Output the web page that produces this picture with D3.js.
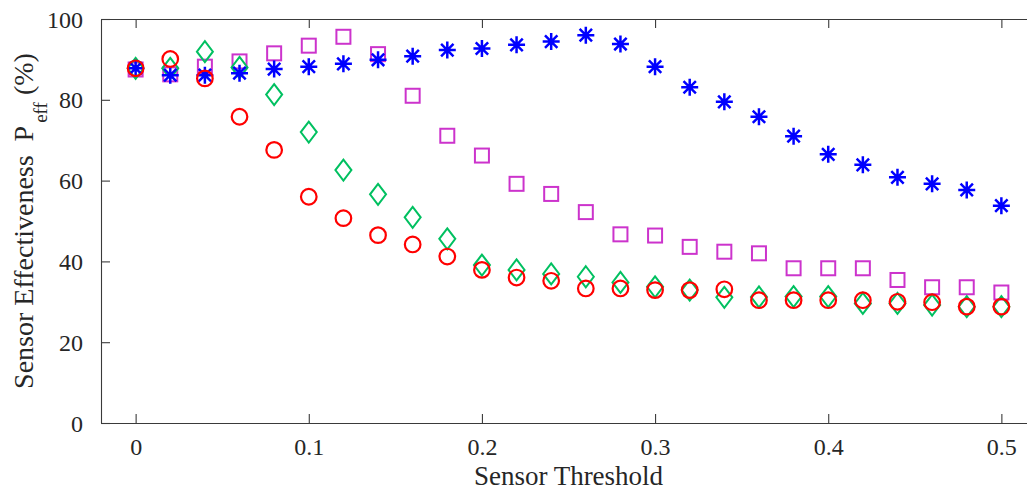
<!DOCTYPE html>
<html>
<head>
<meta charset="utf-8">
<script src="https://cdn.jsdelivr.net/npm/d3@7"></script>
<style>
  html, body { margin: 0; padding: 0; background: #fff; overflow: hidden; }
  svg { display: block; }
  text { font-family: "Liberation Serif", "Times New Roman", serif; fill: #262626; }
</style>
</head>
<body>
<svg id="chart" width="1027" height="490"></svg>
<script>
const thresholds = [0, 0.02, 0.04, 0.06, 0.08, 0.10, 0.12, 0.14, 0.16, 0.18, 0.20, 0.22, 0.24,
  0.26, 0.28, 0.30, 0.32, 0.34, 0.36, 0.38, 0.40, 0.42, 0.44, 0.46, 0.48, 0.50];
const seriesSquare = [87.5, 86.3, 88.2, 89.5, 91.5, 93.4, 95.6, 91.3, 81.0, 71.1, 66.2, 59.2, 56.7,
  52.2, 46.7, 46.4, 43.6, 42.4, 42.0, 38.3, 38.3, 38.3, 35.4, 33.6, 33.6, 32.3];
const seriesDiamond = [87.8, 87.8, 91.9, 88.0, 81.3, 72.0, 62.6, 56.6, 50.9, 45.6, 39.1, 37.9, 36.9,
  36.2, 34.8, 33.7, 32.9, 31.1, 31.2, 31.3, 31.3, 29.6, 29.6, 29.2, 28.8, 28.8];
const seriesStar = [87.8, 86.1, 86.1, 86.6, 87.6, 88.2, 88.9, 89.9, 90.8, 92.3, 92.7, 93.6, 94.4,
  96.0, 93.8, 88.2, 83.1, 79.5, 75.8, 71.0, 66.5, 63.9, 60.8, 59.2, 57.7, 53.8];
const seriesCircle = [87.8, 90.1, 85.3, 75.8, 67.6, 56.0, 50.7, 46.5, 44.2, 41.2, 37.9, 36.0, 35.2,
  33.3, 33.3, 32.9, 32.9, 33.1, 30.4, 30.4, 30.4, 30.4, 30.0, 29.9, 28.8, 28.8];
const xTicks = [0, 0.1, 0.2, 0.3, 0.4, 0.5];
const yTicks = [0, 20, 40, 60, 80, 100];
const xLabel = "Sensor Threshold";

(function () {
const svg = d3.select("#chart");
const mLeft = 101, mRight = 1036, mTop = 19, mBottom = 423;
const x = d3.scaleLinear().domain([-0.02, 0.52]).range([mLeft, mRight]);
const y = d3.scaleLinear().domain([0, 100]).range([mBottom, mTop]);
const axisColor = "#3a3a3a";
const tickLen = 9;

// Axes
const gx = svg.append("g").attr("transform", `translate(0,${mBottom})`)
  .call(d3.axisBottom(x).tickValues(xTicks).tickFormat(d3.format("")).tickSizeInner(-tickLen).tickSizeOuter(0).tickPadding(15));
const gxTop = svg.append("g").attr("transform", `translate(0,${mTop})`)
  .call(d3.axisTop(x).tickValues(xTicks).tickFormat("").tickSizeInner(-tickLen).tickSizeOuter(0));
const gy = svg.append("g").attr("transform", `translate(${mLeft},0)`)
  .call(d3.axisLeft(y).tickValues(yTicks).tickFormat(d3.format("d")).tickSizeInner(-tickLen).tickSizeOuter(0).tickPadding(18));
[gx, gxTop, gy].forEach(g => {
  g.selectAll(".domain").attr("stroke", axisColor).attr("stroke-width", 1.1);
  g.selectAll(".tick line").attr("stroke", axisColor).attr("stroke-width", 1.1);
  g.selectAll(".tick text").attr("font-size", 24).attr("fill", "#262626")
    .attr("font-family", "Liberation Serif, Times New Roman, serif");
});
gy.selectAll(".tick text").attr("dy", "0.34em");

// Axis labels
svg.append("text").attr("x", (mLeft + mRight) / 2).attr("y", 485)
  .attr("text-anchor", "middle").attr("font-size", 27).text(xLabel);
const yl = svg.append("text").attr("transform", `translate(33,${(mTop + mBottom) / 2}) rotate(-90)`)
  .attr("text-anchor", "middle").attr("font-size", 28);
yl.append("tspan").text("Sensor Effectiveness\u00a0 P");
yl.append("tspan").attr("font-size", 19).attr("dy", 14).attr("dx", 3).text("eff");
yl.append("tspan").attr("dy", -14).text("\u00a0(%)");

// Data marks
const pts = s => thresholds.map((t, i) => [x(t), y(s[i])]);
const g = svg.append("g");

g.selectAll(".sq").data(pts(seriesSquare)).join("rect").attr("class", "sq")
  .attr("x", d => d[0] - 7).attr("y", d => d[1] - 7).attr("width", 14).attr("height", 14)
  .attr("fill", "none").attr("stroke", "#CC33CC").attr("stroke-width", 2);

g.selectAll(".dm").data(pts(seriesDiamond)).join("path").attr("class", "dm")
  .attr("d", d => `M${d[0]},${d[1] - 10.5}L${d[0] + 8},${d[1]}L${d[0]},${d[1] + 10.5}L${d[0] - 8},${d[1]}Z`)
  .attr("fill", "none").attr("stroke", "#00C060").attr("stroke-width", 2);

g.selectAll(".st").data(pts(seriesStar)).join("path").attr("class", "st")
  .attr("d", d => {
    const r = 8.5, q = 6.2;
    return `M${d[0]},${d[1] - r}V${d[1] + r}M${d[0] - r},${d[1]}H${d[0] + r}` +
      `M${d[0] - q},${d[1] - q}L${d[0] + q},${d[1] + q}M${d[0] - q},${d[1] + q}L${d[0] + q},${d[1] - q}`;
  })
  .attr("fill", "none").attr("stroke", "#0000FF").attr("stroke-width", 2.5);

g.selectAll(".ci").data(pts(seriesCircle)).join("circle").attr("class", "ci")
  .attr("cx", d => d[0]).attr("cy", d => d[1]).attr("r", 7.8)
  .attr("fill", "none").attr("stroke", "#FF0000").attr("stroke-width", 2.2);
})();
</script>
</body>
</html>
